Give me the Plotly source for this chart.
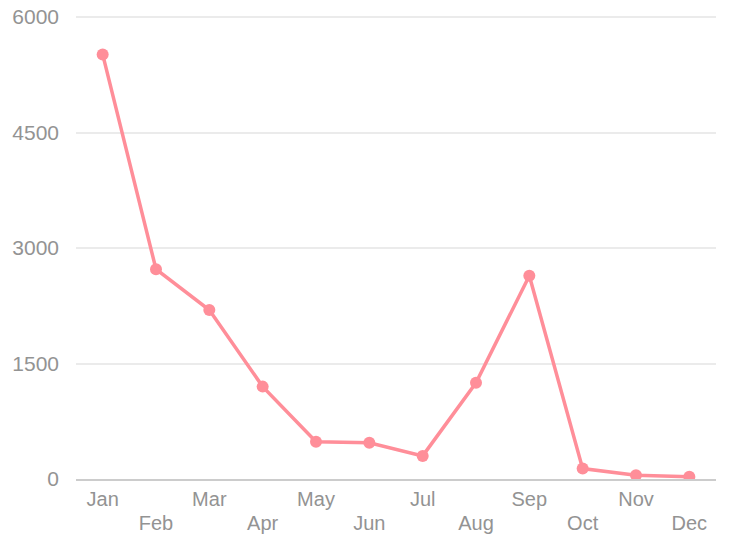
import plotly.graph_objects as go

# monthly values
months = ["Jan", "Feb", "Mar", "Apr", "May", "Jun",
          "Jul", "Aug", "Sep", "Oct", "Nov", "Dec"]
values = [5515, 2725, 2195, 1200, 485, 470, 300, 1250, 2640, 135, 50, 30]
y_ticks = [0, 1500, 3000, 4500, 6000]

font = "Helvetica Neue, Helvetica, Arial, Liberation Sans, sans-serif"
label_color = "#939393"
pink = "#ff8e99"

fig = go.Figure()
fig.add_trace(go.Scatter(
    x=months, y=values,
    mode="lines+markers",
    line=dict(color=pink, width=3.5),
    marker=dict(color=pink, size=12),
    hoverinfo="x+y",
))
# ghost copy so the second (staggered) label row has a category axis to live on
fig.add_trace(go.Scatter(
    x=months, y=values, xaxis="x2",
    mode="lines", opacity=0, hoverinfo="skip", showlegend=False,
))

# the page body has an 8px margin, so the figure is a bit smaller than the window
fig.update_layout(
    width=732, height=546,
    margin=dict(l=68, r=24, t=6, b=75),
    paper_bgcolor="white", plot_bgcolor="white",
    showlegend=False,
    font=dict(family=font, size=20, color=label_color),
    xaxis=dict(
        type="category", categoryorder="array", categoryarray=months,
        range=[-0.5, 11.5], automargin=False,
        tickvals=months[0::2], ticktext=months[0::2],
        showgrid=False, zeroline=False,
        showline=True, linecolor="#cccccc", linewidth=2,
        ticks="", ticklabelstandoff=1,
        tickfont=dict(size=20, color=label_color),
    ),
    xaxis2=dict(
        type="category", categoryorder="array", categoryarray=months,
        range=[-0.5, 11.5], overlaying="x", anchor="y", side="bottom",
        automargin=False,
        tickvals=months[1::2], ticktext=months[1::2],
        showgrid=False, zeroline=False, showline=False,
        ticks="", ticklabelstandoff=30,
        tickfont=dict(size=20, color=label_color),
    ),
    yaxis=dict(
        range=[0, 6040], tickvals=y_ticks, automargin=False,
        showgrid=True, gridcolor="#ebebeb", gridwidth=2,
        zeroline=False, showline=False,
        ticks="", ticklabelstandoff=16, ticklabeloverflow="allow",
        tickfont=dict(size=21, color=label_color),
    ),
)

fig.write_html("out.html")
